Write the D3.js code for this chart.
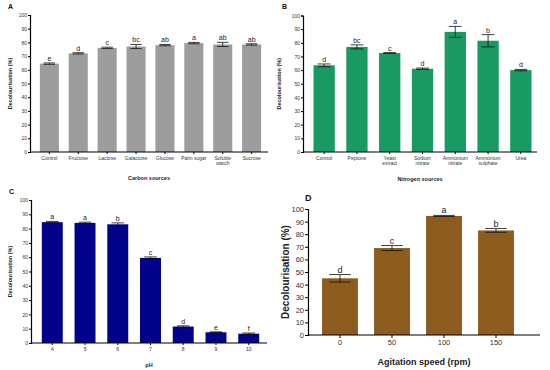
<!DOCTYPE html>
<html>
<head>
<meta charset="utf-8">
<script src="https://cdn.jsdelivr.net/npm/d3@7"></script>
<style>
  body { margin: 0; background: #fff; }
  svg { font-family: Arial, "Liberation Sans", sans-serif; }
</style>
</head>
<body>
<div id="chart"></div>
<script>
// DATA
// Panel A - carbon sources
const carbonCats = ["Control", "Fructose", "Lactose", "Galactose", "Glucose", "Palm sugar", "Soluble starch", "Sucrose"]
const carbonVals = [64.5, 72, 76, 77, 78, 79.5, 78.5, 78.5]
const carbonErr = [0.5, 0.5, 0.5, 1.5, 0.5, 0.5, 1.5, 0.5]
const carbonLetters = ["e", "d", "c", "bc", "ab", "a", "ab", "ab"]

// Panel B - nitrogen sources
const nitroCats = ["Control", "Peptone", "Yeast extract", "Sodium nitrate", "Ammonium nitrate", "Ammonium sulphate", "Urea"]
const nitroVals = [63.5, 77, 72.5, 61, 88, 81.5, 60]
const nitroErr = [1, 1.5, 0.3, 0.5, 4, 4.5, 0.5]
const nitroLetters = ["d", "bc", "c", "d", "a", "b", "d"]

// Panel C - pH
const phCats = ["4", "5", "6", "7", "8", "9", "10"]
const phVals = [84.5, 84, 83, 59.5, 11.5, 7.5, 6.5]
const phErr = [0.5, 0.5, 1, 0.7, 0.5, 0.3, 0.5]
const phLetters = ["a", "a", "b", "c", "d", "e", "f"]

// Panel D - agitation speed
const speedCats = ["0", "50", "100", "150"]
const speedVals = [45, 69, 94.5, 83]
const speedErr = [3, 2, 0.4, 1.5]
const speedLetters = ["d", "c", "a", "b"]

const yTicks = [0, 10, 20, 30, 40, 50, 60, 70, 80, 90, 100]

const svg = d3.select("#chart").append("svg").attr("width", 550).attr("height", 370)

// Draws one bar panel
function panel(opt) {
  const g = svg.append("g")
  const y = d3.scaleLinear().domain([0, 100]).range([opt.y0, opt.y1])
  const x = d3.scaleBand().domain(opt.cats).range([opt.x0, opt.x1]).paddingInner(opt.pad).paddingOuter(opt.outer)

  // bars
  g.selectAll("rect.bar").data(opt.vals).enter().append("rect")
    .attr("x", (d, i) => x(opt.cats[i]))
    .attr("width", x.bandwidth())
    .attr("y", d => y(d))
    .attr("height", d => y(0) - y(d))
    .attr("fill", opt.fill)

  // error bars + significance letters
  const cap = x.bandwidth() * 0.3
  opt.vals.forEach((v, i) => {
    const cx = x(opt.cats[i]) + x.bandwidth() / 2
    const e = opt.err[i]
    g.append("line").attr("x1", cx).attr("x2", cx).attr("y1", y(v + e)).attr("y2", y(v - e))
      .attr("stroke", "#111").attr("stroke-width", 0.8)
    g.append("line").attr("x1", cx - cap).attr("x2", cx + cap).attr("y1", y(v + e)).attr("y2", y(v + e))
      .attr("stroke", "#111").attr("stroke-width", 0.8)
    g.append("line").attr("x1", cx - cap).attr("x2", cx + cap).attr("y1", y(v - e)).attr("y2", y(v - e))
      .attr("stroke", "#111").attr("stroke-width", 0.8)
    g.append("text").attr("x", cx).attr("y", y(v + e) - 2)
      .attr("text-anchor", "middle").attr("font-size", opt.letterSize).attr("fill", "#222")
      .text(opt.letters[i])
  })

  // y axis
  const yAxis = g.append("g").attr("transform", `translate(${opt.x0},0)`)
    .call(d3.axisLeft(y).tickValues(yTicks).tickSize(opt.tick).tickPadding(1))
  yAxis.select(".domain").attr("stroke-width", 1.2)
  yAxis.selectAll("text").attr("font-size", opt.tickSize).attr("fill", "#333")

  // x axis
  const xAxis = g.append("g").attr("transform", `translate(0,${opt.y0})`)
    .call(d3.axisBottom(x).tickSize(opt.tick).tickPadding(2).tickSizeOuter(0))
  xAxis.select(".domain").attr("d", `M${opt.x0},0H${opt.xEnd}`).attr("stroke-width", 1.2)
  xAxis.selectAll("text").attr("font-size", opt.tickSize).attr("fill", "#333")
    .each(function(d) {
      // long two-word labels go on two lines
      const words = d.split(" ")
      if (words.length > 1 && d.length > 10) {
        const t = d3.select(this).text(null)
        t.append("tspan").attr("x", 0).text(words[0])
        t.append("tspan").attr("x", 0).attr("dy", "1.05em").text(words.slice(1).join(" "))
      }
    })

  // axis titles
  g.append("text").attr("x", (opt.x0 + opt.xEnd) / 2).attr("y", opt.titleY)
    .attr("text-anchor", "middle").attr("font-size", opt.titleSize).attr("font-weight", "bold")
    .attr("fill", "#222").text(opt.xTitle)
  g.append("text").attr("transform", `translate(${opt.yTitleX},${(opt.y0 + opt.y1) / 2}) rotate(-90)`)
    .attr("text-anchor", "middle").attr("font-size", opt.yTitleSize).attr("font-weight", "bold")
    .attr("fill", "#222").text("Decolourisation (%)")

  // panel letter
  g.append("text").attr("x", opt.labelX).attr("y", opt.labelY)
    .attr("font-size", opt.labelSize).attr("font-weight", "bold").attr("fill", "#111").text(opt.label)
}

panel({
  cats: carbonCats, vals: carbonVals, err: carbonErr, letters: carbonLetters,
  x0: 30, x1: 271, xEnd: 268, y0: 152, y1: 15, pad: 0.34, outer: 0.34,
  fill: "#9d9d9d", tick: 2, tickSize: 5, letterSize: 7, titleSize: 5.5, yTitleSize: 5.5,
  xTitle: "Carbon sources", titleY: 180, yTitleX: 12, label: "A", labelX: 8, labelY: 9, labelSize: 7
})

panel({
  cats: nitroCats, vals: nitroVals, err: nitroErr, letters: nitroLetters,
  x0: 303, x1: 542, xEnd: 537, y0: 152, y1: 15.5, pad: 0.35, outer: 0.32,
  fill: "#189a62", tick: 2, tickSize: 5, letterSize: 7, titleSize: 5.5, yTitleSize: 5.5,
  xTitle: "Nitrogen sources", titleY: 181, yTitleX: 281, label: "B", labelX: 282, labelY: 9, labelSize: 7
})

panel({
  cats: phCats, vals: phVals, err: phErr, letters: phLetters,
  x0: 31, x1: 270, xEnd: 267, y0: 343, y1: 200, pad: 0.36, outer: 0.33,
  fill: "#02028a", tick: 2, tickSize: 5, letterSize: 7, titleSize: 5.5, yTitleSize: 5.5,
  xTitle: "pH", titleY: 367, yTitleX: 12, label: "C", labelX: 9, labelY: 194, labelSize: 7
})

panel({
  cats: speedCats, vals: speedVals, err: speedErr, letters: speedLetters,
  x0: 308, x1: 528, xEnd: 540, y0: 335, y1: 209, pad: 0.31, outer: 0.27,
  fill: "#8c5b1e", tick: 3, tickSize: 7.5, letterSize: 9, titleSize: 9, yTitleSize: 10,
  xTitle: "Agitation speed (rpm)", titleY: 365, yTitleX: 289, label: "D", labelX: 305, labelY: 201, labelSize: 9
})
</script>
</body>
</html>
